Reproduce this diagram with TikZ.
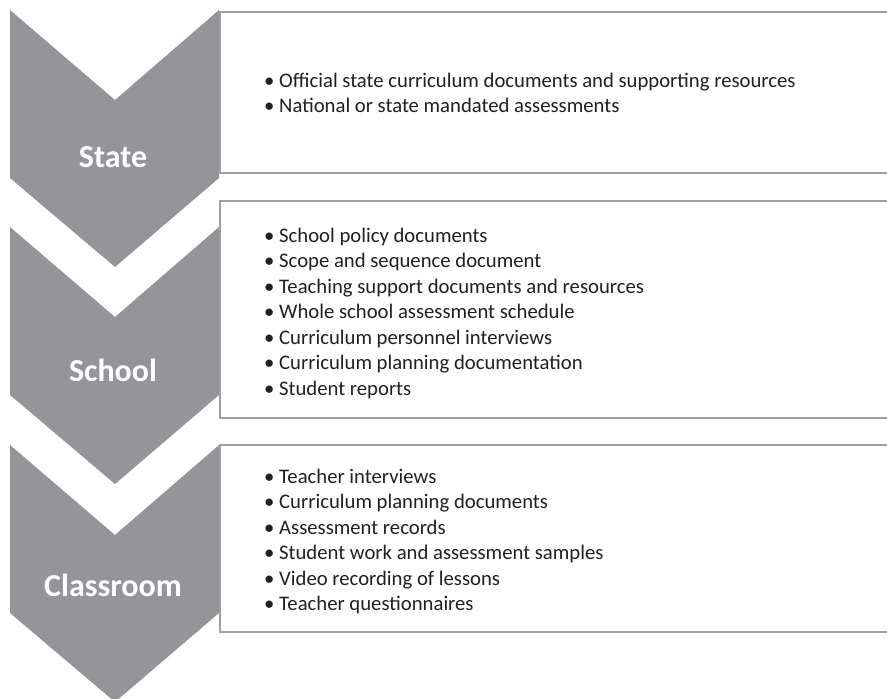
\documentclass[tikz,border=0pt]{standalone}
\usepackage{fontspec}
\setmainfont{Carlito}
\usetikzlibrary{positioning}
\definecolor{chevgray}{RGB}{147,149,152}
\definecolor{boxgray}{RGB}{160,160,160}
\definecolor{itemtext}{RGB}{35,31,32}
\tikzset{
    chev/.style={
           fill=chevgray,
           draw=none,
           },
    level/.style={
           text=white,
           font=\fontsize{32}{38}\selectfont\bfseries,
           inner sep=0pt,
           },
    panel/.style={
           draw=boxgray,
           line width=2pt,
           fill=white,
           },
    item/.style={
           font=\fontsize{20.7}{25.6}\selectfont,
           text=itemtext,
           inner sep=0pt,
           anchor=base west,
           },
}

\begin{document}
\begin{tikzpicture}[x=1pt,y=-1pt]
\useasboundingbox (0,0) rectangle (887,699);
\clip (0,0) rectangle (887,699);
% chevrons with their level names
\foreach \yy/\name/\lbl/\ly in {10/state/State/157,227/school/School/370,445/classroom/Classroom/585}{
  \fill[chev] (10,\yy) -- (115,\yy+90) -- (219,\yy) -- (219,\yy+168)
              -- (115,\yy+257) -- (10,\yy+168) -- cycle;
  \node[level] (\name) at (113,\ly) {\lbl};
}
% panels, open to the right
\draw[panel] (220,12) rectangle (900,173);
\draw[panel] (220,201) rectangle (900,418);
\draw[panel] (220,445) rectangle (900,632);
% state sources
\foreach \txt [count=\i from 0] in {Official state curriculum documents and supporting resources,
    National or state mandated assessments}
  \node[item] (st\i) at (264,87+25.6*\i) {•\ \txt};
% school sources
\foreach \txt [count=\i from 0] in {School policy documents,
    Scope and sequence document,
    Teaching support documents and resources,
    Whole school assessment schedule,
    Curriculum personnel interviews,
    Curriculum planning documentation,
    Student reports}
  \node[item] (sc\i) at (264,242+25.5*\i) {•\ \txt};
% classroom sources
\foreach \txt [count=\i from 0] in {Teacher interviews,
    Curriculum planning documents,
    Assessment records,
    Student work and assessment samples,
    Video recording of lessons,
    Teacher questionnaires}
  \node[item] (cl\i) at (264,483+25.5*\i) {•\ \txt};
\end{tikzpicture}
\end{document}
